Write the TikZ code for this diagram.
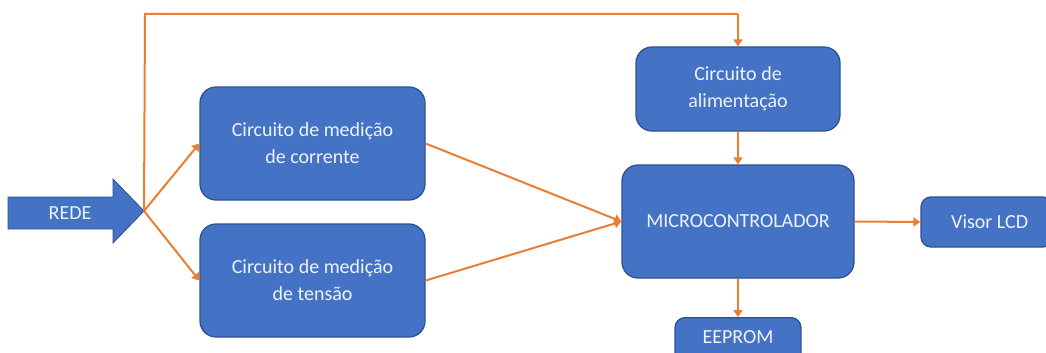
\documentclass[tikz,border=0pt]{standalone}
\usepackage{fontspec}
\setmainfont{Carlito}
\usetikzlibrary{arrows.meta}
\definecolor{boxfill}{HTML}{4472C4}
\definecolor{boxline}{HTML}{2F528F}
\definecolor{wire}{HTML}{ED7D31}
\definecolor{txt}{HTML}{EEF2FA}
\tikzset{
  blk/.style={draw=boxline, line width=1.3pt, fill=boxfill, rounded corners=16pt,
    text=txt, align=center, font=\fontsize{20}{27}\selectfont, inner sep=0pt},
  sblk/.style={blk, rounded corners=10pt},
  lbl/.style={text=txt, font=\fontsize{20}{24}\selectfont, inner sep=0pt},
  wirearrow/.style={draw=wire, line width=2pt, -{Triangle[length=7pt,width=9pt]}},
  wireline/.style={draw=wire, line width=2pt}
}
\begin{document}
\begin{tikzpicture}[x=1pt,y=-1pt]
\useasboundingbox (0,0) rectangle (1046,353);
% REDE arrow
\filldraw[draw=boxline, line width=0.8pt, fill=boxfill]
  (8,197) -- (113,197) -- (113,179) -- (144,211) -- (113,243) -- (113,229) -- (8,229) -- cycle;
\node[lbl] (rede) at (70,213) {REDE};
\coordinate (tip) at (144,211);
\coordinate (top1) at (145,14);
\coordinate (top2) at (738,14);
% boxes
\node[blk, minimum width=225pt, minimum height=113pt] (corr) at (312.5,143.5) {Circuito de medição\\de corrente};
\node[blk, minimum width=225pt, minimum height=113pt] (tens) at (312.5,280.5) {Circuito de medição\\de tensão};
\node[blk, minimum width=204pt, minimum height=84pt] (alim) at (738,89) {Circuito de\\alimentação};
\node[blk, minimum width=232pt, minimum height=113pt] (micro) at (738,221.5) {MICROCONTROLADOR};
\node[sblk, minimum width=132pt, minimum height=50pt] (lcd) at (987,222) {};
\node[lbl, anchor=west] (lcdtext) at (951,222) {Visor LCD};
\node[sblk, minimum width=126pt, minimum height=46pt, anchor=north] (eeprom) at (738,317) {};
\node[lbl] (eetext) at (738,337) {EEPROM};
% connectors
\draw[wireline] (tip) -- (top1) -- (top2);
\draw[wirearrow] (top2) -- (alim.north);
\draw[wirearrow] (tip) -- (corr.west);
\draw[wirearrow] (tip) -- (tens.west);
\draw[wirearrow] (corr.east) -- (micro.west);
\draw[wirearrow] (tens.east) -- (micro.west);
\draw[wirearrow] (alim.south) -- (micro.north);
\draw[wirearrow] (micro.east) -- (lcd.west);
\draw[wirearrow] (micro.south) -- (eeprom.north);
\end{tikzpicture}
\end{document}
